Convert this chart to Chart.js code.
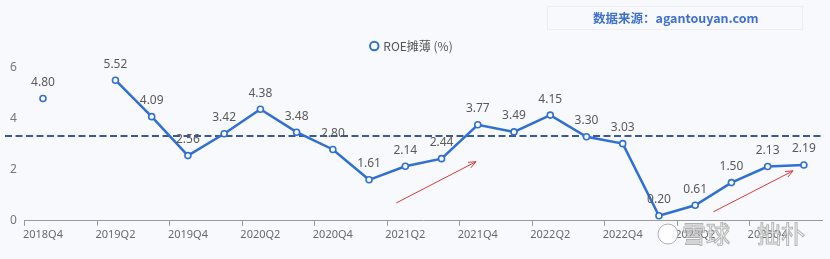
<!DOCTYPE html>
<html>
<head>
<meta charset="utf-8">
<script src="https://cdn.jsdelivr.net/npm/chart.js@4/dist/chart.umd.min.js"></script>
<style>
html,body{margin:0;padding:0;background:#f8f9fc;}
#wrap{position:relative;width:830px;height:259px;}
</style>
</head>
<body>
<div id="wrap"><canvas id="c" width="830" height="259"></canvas></div>
<script>
const categories = ["2018Q4","2019Q1","2019Q2","2019Q3","2019Q4","2020Q1","2020Q2","2020Q3","2020Q4","2021Q1","2021Q2","2021Q3","2021Q4","2022Q1","2022Q2","2022Q3","2022Q4","2023Q1","2023Q2","2023Q3","2023Q4","2024Q1"];
const roeValues = [4.80,null,5.52,4.09,2.56,3.42,4.38,3.48,2.80,1.61,2.14,2.44,3.77,3.49,4.15,3.30,3.03,0.20,0.61,1.50,2.13,2.19];
const yTicks = [0,2,4,6];
const refLineValue = 3.33;
const seriesName = "ROE摊薄 (%)";
const sourceText = "数据来源：agantouyan.com";
// arrows: [startIndex, startValue, endIndex, endValue]
const arrowNotes = [[9.75,0.70,11.95,2.32],[18.5,0.35,20.7,1.96]];

const BLUE = "#2f6fd6";

const bgPlugin = {
  id:"bg",
  beforeDraw(chart){
    const ctx=chart.ctx;
    ctx.save();
    ctx.fillStyle="#f8f9fc";
    ctx.fillRect(0,0,chart.width,chart.height);
    ctx.strokeStyle="#eceef3";
    ctx.lineWidth=1;
    ctx.strokeRect(547.5,6.5,255,23);
    ctx.fillStyle="#3d6fd4";
    ctx.font="bold 12.5px 'Noto Sans CJK SC', 'Noto Sans', sans-serif";
    ctx.textAlign="left";
    ctx.textBaseline="middle";
    ctx.fillText(sourceText,593,18);
    ctx.restore();
  }
};

const legendGap = {
  id:"legendGap",
  beforeInit(chart){
    const orig = chart.legend.fit;
    chart.legend.fit = function(){ orig.call(this); this.height += 6; };
  }
};

const refPlugin = {
  id:"refline",
  beforeDatasetsDraw(chart){
    const ctx=chart.ctx, y=chart.scales.y.getPixelForValue(refLineValue);
    ctx.save();
    ctx.strokeStyle="#3a58a0";
    ctx.lineWidth=2;
    ctx.setLineDash([7,3.5]);
    ctx.beginPath();
    ctx.moveTo(5,y);
    ctx.lineTo(chart.chartArea.right,y);
    ctx.stroke();
    ctx.restore();
  }
};

const labelPlugin = {
  id:"vlabels",
  afterDatasetsDraw(chart){
    const ctx=chart.ctx, meta=chart.getDatasetMeta(0);
    ctx.save();
    ctx.fillStyle="#5a5a5a";
    ctx.font="12px 'Noto Sans', sans-serif";
    ctx.textAlign="center";
    ctx.textBaseline="middle";
    meta.data.forEach((pt,i)=>{
      const v=roeValues[i];
      if(v===null) return;
      ctx.fillText(v.toFixed(2),pt.x,pt.y-16);
    });
    ctx.restore();
  }
};

const arrowPlugin = {
  id:"arrows",
  afterDatasetsDraw(chart){
    const ctx=chart.ctx, xs=chart.scales.x, ys=chart.scales.y;
    ctx.save();
    ctx.strokeStyle="#e03a3a";
    ctx.lineWidth=1;
    arrowNotes.forEach(a=>{
      const x1=xs.getPixelForValue(a[0]), y1=ys.getPixelForValue(a[1]);
      const x2=xs.getPixelForValue(a[2]), y2=ys.getPixelForValue(a[3]);
      ctx.beginPath();ctx.moveTo(x1,y1);ctx.lineTo(x2,y2);ctx.stroke();
      const ang=Math.atan2(y2-y1,x2-x1), L=8;
      ctx.beginPath();
      ctx.moveTo(x2-L*Math.cos(ang-0.4),y2-L*Math.sin(ang-0.4));
      ctx.lineTo(x2,y2);
      ctx.lineTo(x2-L*Math.cos(ang+0.4),y2-L*Math.sin(ang+0.4));
      ctx.stroke();
    });
    ctx.restore();
  }
};

const wmPlugin = {
  id:"wm",
  afterDraw(chart){
    const ctx=chart.ctx;
    ctx.save();
    ctx.globalAlpha=0.8;
    ctx.lineWidth=1;
    ctx.strokeStyle="#a0a0a0";
    ctx.fillStyle="#ffffff";
    ctx.beginPath();ctx.arc(668,234,10,0,Math.PI*2);ctx.fill();ctx.stroke();
    ctx.font="24px 'Noto Sans CJK SC', sans-serif";
    ctx.textBaseline="middle";
    ctx.textAlign="left";
    ctx.fillText("雪球",682,234);ctx.strokeText("雪球",682,234);
    ctx.fillText("拙朴",757,234);ctx.strokeText("拙朴",757,234);
    ctx.restore();
  }
};

new Chart(document.getElementById("c"),{
  type:"line",
  data:{labels:categories,datasets:[{
    label:seriesName,
    data:roeValues,
    borderColor:BLUE,
    backgroundColor:"#ffffff",
    borderWidth:2.5,
    pointRadius:3,
    pointBorderWidth:1.6,
    pointBackgroundColor:"#ffffff",
    pointBorderColor:BLUE,
    spanGaps:false,
    tension:0
  }]},
  options:{
    responsive:false,
    animation:false,
    layout:{padding:{left:2,right:8,top:30,bottom:16}},
    plugins:{
      legend:{
        display:true,
        position:"top",
        labels:{
          usePointStyle:true,
          pointStyle:"circle",
          boxWidth:6,boxHeight:6,
          color:"#555",
          font:{size:12,family:"'Noto Sans CJK SC','Noto Sans',sans-serif"},
          padding:10,
          generateLabels(chart){
            return [{text:seriesName,fillStyle:"#fff",strokeStyle:BLUE,lineWidth:2,pointStyle:"circle",datasetIndex:0,fontColor:"#555"}];
          }
        }
      },
      tooltip:{enabled:false}
    },
    scales:{
      x:{
        offset:true,
        grid:{
          offset:true,
          drawOnChartArea:false,
          drawTicks:true,
          tickLength:5,
          color:(c)=> (c.index%2===0 ? "#9a9a9a" : "rgba(0,0,0,0)"),
          lineWidth:1
        },
        border:{display:true,color:"#9a9a9a",width:1},
        ticks:{
          autoSkip:false,
          maxRotation:0,
          color:"#6a6a6a",
          font:{size:11,family:"'Noto Sans',sans-serif"},
          padding:2,
          callback:(v,i)=> (i%2===0 ? categories[i] : "")
        }
      },
      y:{
        min:0,max:6,
        afterBuildTicks(scale){scale.ticks=yTicks.map(v=>({value:v}));},
        grid:{display:false,drawTicks:false,tickLength:0},
        border:{display:false},
        ticks:{
          color:"#777",
          font:{size:12,family:"'Noto Sans',sans-serif"},
          padding:8
        }
      }
    }
  },
  plugins:[bgPlugin,legendGap,refPlugin,labelPlugin,arrowPlugin,wmPlugin]
});
</script>
</body>
</html>
